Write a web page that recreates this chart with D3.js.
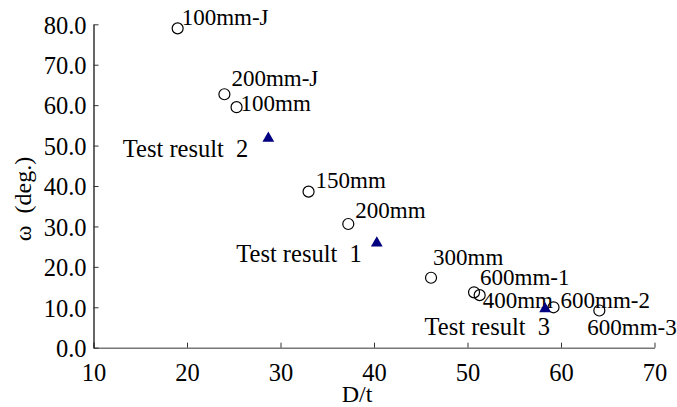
<!DOCTYPE html>
<html>
<head>
<meta charset="utf-8">
<script src="https://cdn.jsdelivr.net/npm/d3@7"></script>
<style>
  html, body { margin: 0; padding: 0; background: #fff; }
  svg { display: block; }
  svg text { font-family: "Times New Roman", "Liberation Serif", Times, "DejaVu Serif", serif; fill: #000; }
</style>
</head>
<body>
<svg id="chart" width="677" height="407"></svg>
<script>
// Specimen series: D/t ratio vs. rotation angle ω
const specimenNames = ["100mm-J", "200mm-J", "100mm", "150mm", "200mm", "300mm", "600mm-1", "400mm", "600mm-2", "600mm-3"];
const specimenDt    = [19.0, 24.0, 25.3, 33.0, 37.25, 46.1, 50.7, 51.3, 59.2, 64.1];
const specimenOmega = [79.0, 62.7, 59.5, 38.6, 30.6, 17.3, 13.7, 13.0, 10.0, 9.2];

// Test results
const testNames = ["Test result  1", "Test result  2", "Test result  3"];
const testDt    = [40.3, 28.7, 58.3];
const testOmega = [25.9, 51.8, 9.6];

// Axis ticks
const xTicks = [10, 20, 30, 40, 50, 60, 70];
const yTicks = [0, 10, 20, 30, 40, 50, 60, 70, 80];

// Label placement (pixel offsets from each marker)
const specimenLabelOffsets = [
  [4, -3], [7, -8], [4, 4], [7, -4], [7, -6],
  [2, -13], [6, -7], [3, 13], [7, 0.5], [-12, 24.5]
];
const testLabelOffsets = [[-15, 19.3], [-20, 19], [5, 26]];

const FONT = "'Times New Roman', 'Liberation Serif', Times, 'DejaVu Serif', serif";

const svg = d3.select("#chart");
const margin = { left: 93.5, top: 24.3, right: 22.5, bottom: 59.3 };
const W = 677, H = 407;

const x = d3.scaleLinear().domain([10, 70]).range([margin.left, W - margin.right]);
const y = d3.scaleLinear().domain([0, 80]).range([H - margin.bottom, margin.top]);

// X axis (ticks point inward)
const xAxis = svg.append("g")
  .attr("transform", `translate(0,${y(0)})`)
  .call(d3.axisBottom(x).tickValues(xTicks).tickFormat(d3.format("d"))
    .tickSizeInner(-5).tickSizeOuter(0).tickPadding(16));
xAxis.attr("font-family", FONT).attr("font-size", 24.5);
xAxis.select(".domain").attr("stroke", "#777").attr("stroke-width", 1.6);
xAxis.selectAll(".tick line").attr("stroke", "#333").attr("stroke-width", 1);
xAxis.selectAll(".tick text").attr("fill", "#000");

// Y axis (ticks point inward)
const yAxis = svg.append("g")
  .attr("transform", `translate(${x(10)},0)`)
  .call(d3.axisLeft(y).tickValues(yTicks).tickFormat(d3.format(".1f"))
    .tickSizeInner(-5).tickSizeOuter(0).tickPadding(7));
yAxis.attr("font-family", FONT).attr("font-size", 24.5);
yAxis.select(".domain").attr("stroke", "#000").attr("stroke-width", 1.2);
yAxis.selectAll(".tick line").attr("stroke", "#333").attr("stroke-width", 1);
yAxis.selectAll(".tick text").attr("fill", "#000").attr("dy", "0.36em");

// Axis titles
svg.append("text")
  .attr("x", 357).attr("y", 402)
  .attr("text-anchor", "middle")
  .attr("font-size", 24)
  .text("D/t");

svg.append("text")
  .attr("transform", "translate(31,199) rotate(-90)")
  .attr("text-anchor", "middle")
  .attr("font-size", 24)
  .style("white-space", "pre")
  .text("ω  (deg.)");

// Specimen markers: hollow circles
const specimens = specimenNames.map((name, i) => ({
  name, dt: specimenDt[i], omega: specimenOmega[i], off: specimenLabelOffsets[i]
}));

svg.append("g").selectAll("circle")
  .data(specimens)
  .join("circle")
  .attr("cx", d => x(d.dt))
  .attr("cy", d => y(d.omega))
  .attr("r", 5.5)
  .attr("fill", "none")
  .attr("stroke", "#000")
  .attr("stroke-width", 1.2);

svg.append("g").selectAll("text")
  .data(specimens)
  .join("text")
  .attr("x", d => x(d.dt) + d.off[0])
  .attr("y", d => y(d.omega) + d.off[1])
  .attr("font-size", 23)
  .text(d => d.name);

// Test result markers: filled navy triangles
const tests = testNames.map((name, i) => ({
  name, dt: testDt[i], omega: testOmega[i], off: testLabelOffsets[i]
}));

svg.append("g").selectAll("path")
  .data(tests)
  .join("path")
  .attr("transform", d => `translate(${x(d.dt)},${y(d.omega)})`)
  .attr("d", d3.symbol().type(d3.symbolTriangle).size(60))
  .attr("fill", "#000080");

svg.append("g").selectAll("text")
  .data(tests)
  .join("text")
  .attr("x", d => x(d.dt) + d.off[0])
  .attr("y", d => y(d.omega) + d.off[1])
  .attr("text-anchor", "end")
  .attr("font-size", 24.5)
  .style("white-space", "pre")
  .text(d => d.name);
</script>
</body>
</html>
